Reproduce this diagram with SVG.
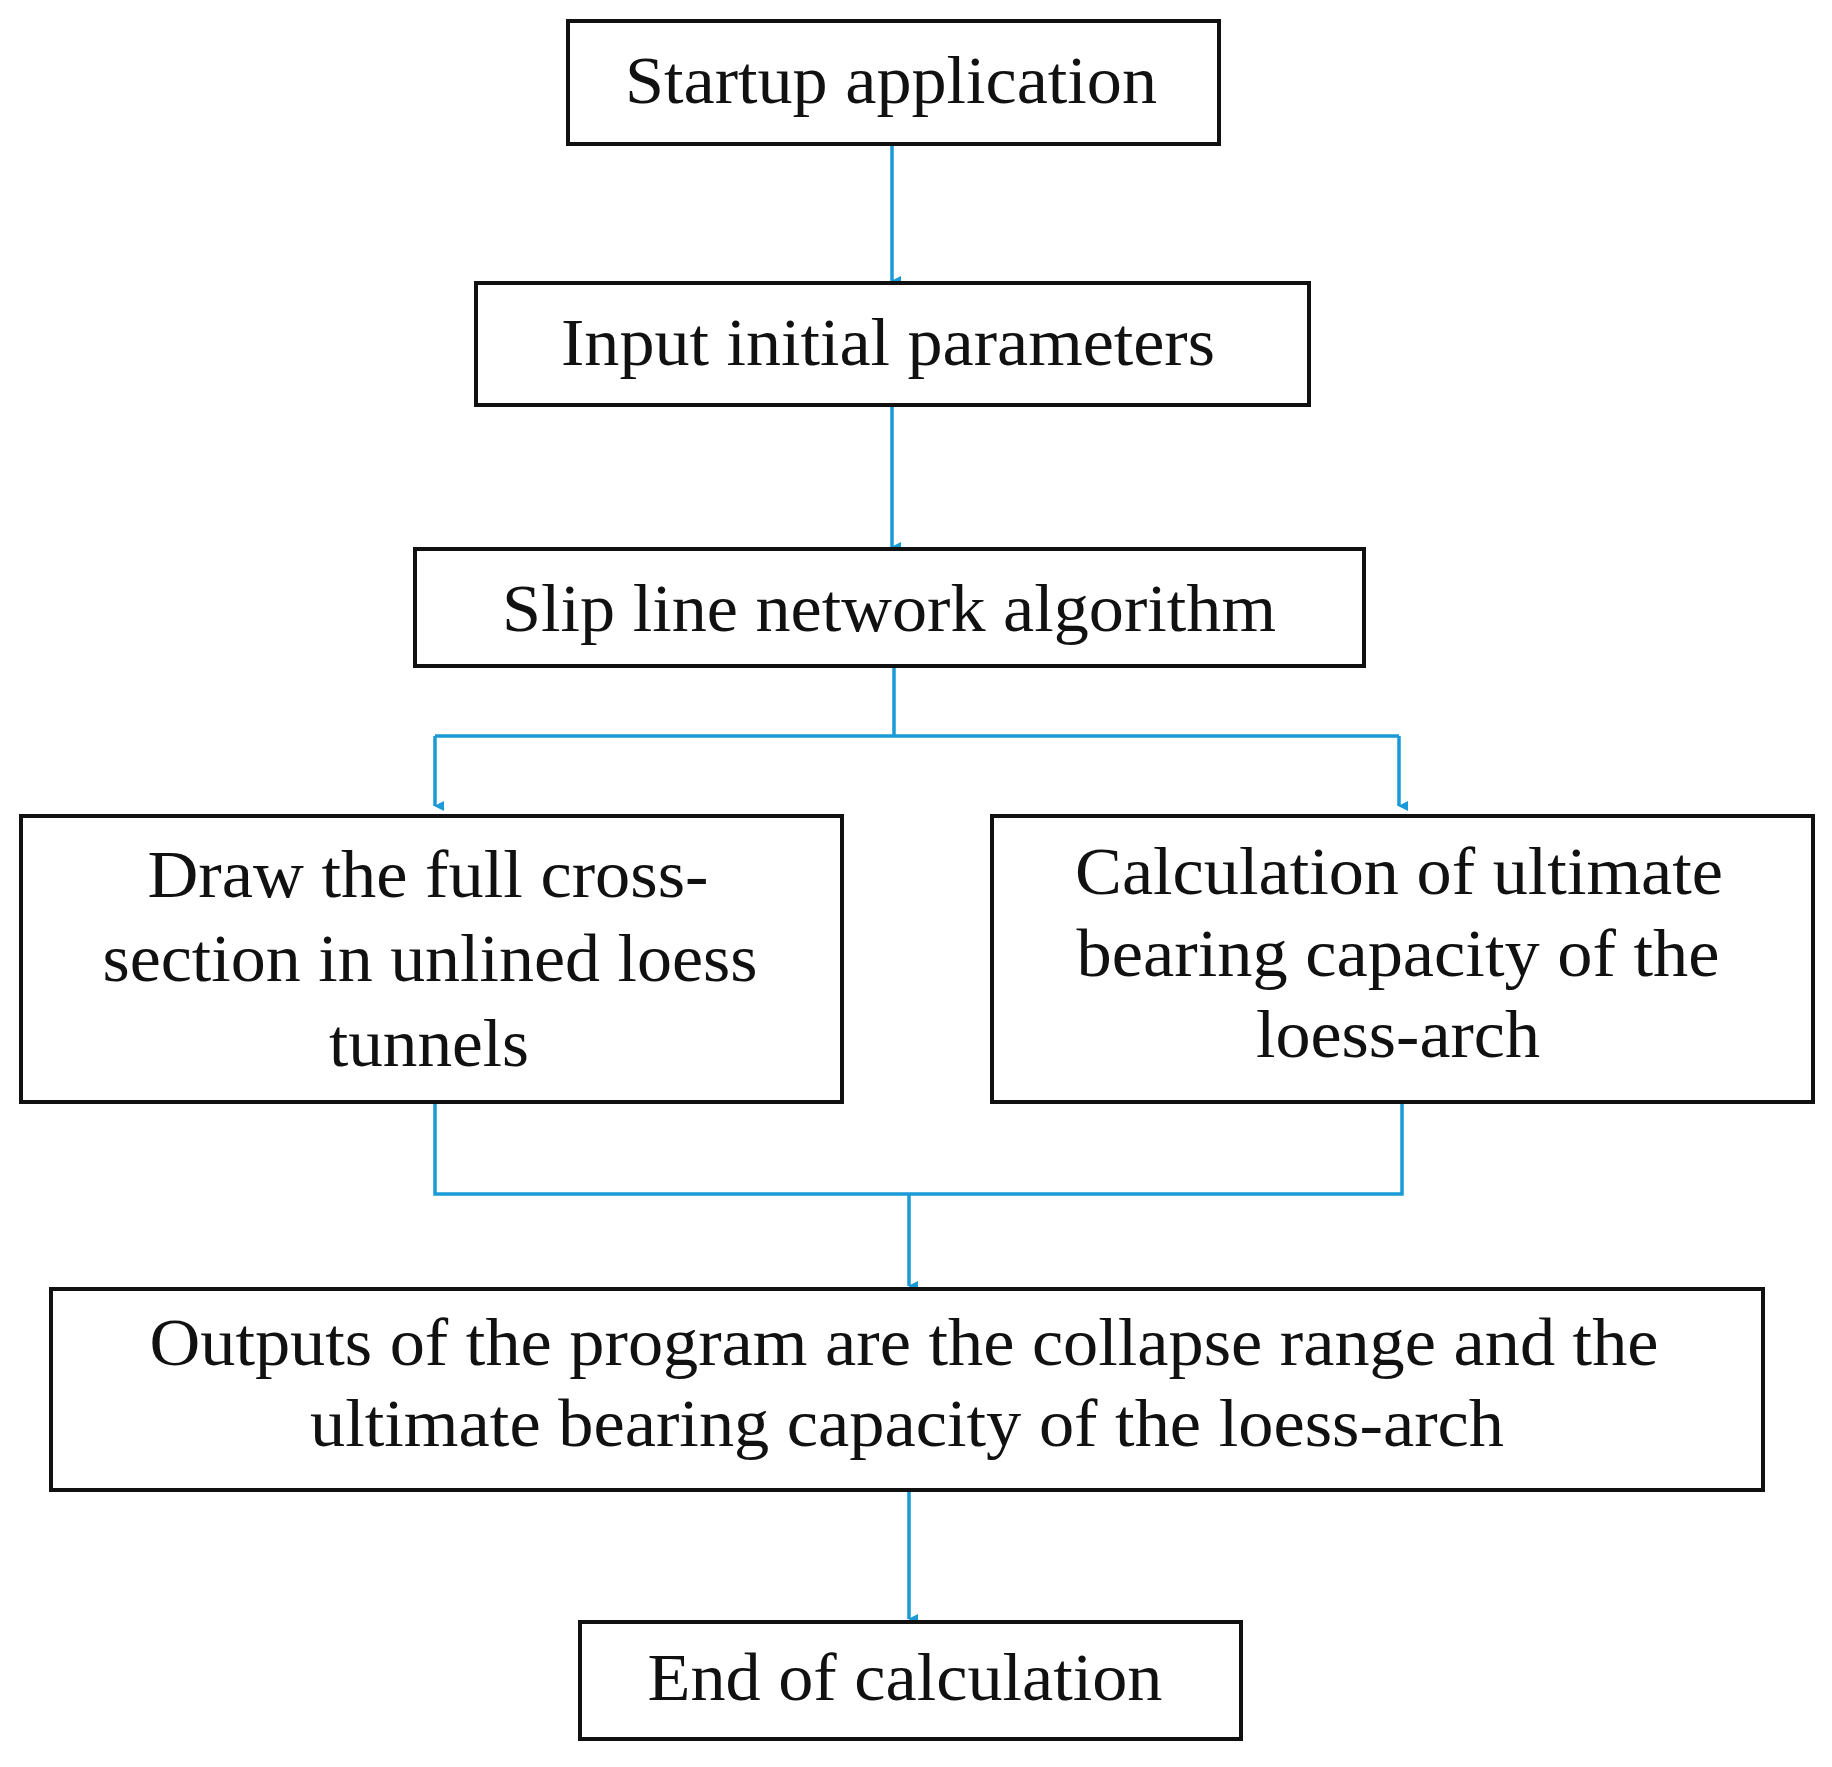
<svg xmlns="http://www.w3.org/2000/svg" width="1832" height="1767" viewBox="0 0 1832 1767">
<defs>
<style>
.box{fill:#fff;stroke:#111;stroke-width:4}
.t{font-family:"Liberation Serif","Times New Roman",serif;font-size:68px;fill:#111;text-anchor:middle;lengthAdjust:spacingAndGlyphs}
.c{fill:none;stroke:#1a9ad6;stroke-width:3.5}
</style>
<marker id="a" markerWidth="10" markerHeight="10" refX="5" refY="9" orient="auto" markerUnits="userSpaceOnUse" viewBox="0 0 10 10">
<path d="M0,0 L10,0 L5,10 Z" fill="#1a9ad6"/>
</marker>
</defs>
<rect width="1832" height="1767" fill="#fff"/>
<g id="connectors">
<path class="c" d="M892,144 V281" marker-end="url(#a)"/>
<path class="c" d="M892,405 V547" marker-end="url(#a)"/>
<path class="c" d="M894,666 V736"/>
<path class="c" d="M435,736 H1399"/>
<path class="c" d="M435,736 V806" marker-end="url(#a)"/>
<path class="c" d="M1399,736 V806" marker-end="url(#a)"/>
<path class="c" d="M435,1102 V1194 H1402 V1102"/>
<path class="c" d="M909,1194 V1286" marker-end="url(#a)"/>
<path class="c" d="M909,1490 V1619" marker-end="url(#a)"/>
</g>
<g id="n1"><rect class="box" x="568" y="21" width="651" height="123"/><text class="t" x="891" y="103" textLength="532" lengthAdjust="spacingAndGlyphs">Startup application</text></g>
<g id="n2"><rect class="box" x="476" y="283" width="833" height="122"/><text class="t" x="888" y="365" textLength="654" lengthAdjust="spacingAndGlyphs">Input initial parameters</text></g>
<g id="n3"><rect class="box" x="415" y="549" width="949" height="117"/><text class="t" x="889" y="631" textLength="774" lengthAdjust="spacingAndGlyphs">Slip line network algorithm</text></g>
<g id="n4"><rect class="box" x="21" y="816" width="821" height="286"/>
<text class="t" x="428" y="897" textLength="561" lengthAdjust="spacingAndGlyphs">Draw the full cross-</text>
<text class="t" x="430" y="981" textLength="655" lengthAdjust="spacingAndGlyphs">section in unlined loess</text>
<text class="t" x="429" y="1066" textLength="200" lengthAdjust="spacingAndGlyphs">tunnels</text></g>
<g id="n5"><rect class="box" x="992" y="816" width="821" height="286"/>
<text class="t" x="1399" y="894" textLength="648" lengthAdjust="spacingAndGlyphs">Calculation of ultimate</text>
<text class="t" x="1398" y="976" textLength="643" lengthAdjust="spacingAndGlyphs">bearing capacity of the</text>
<text class="t" x="1398" y="1057" textLength="284" lengthAdjust="spacingAndGlyphs">loess-arch</text></g>
<g id="n6"><rect class="box" x="51" y="1289" width="1712" height="201"/>
<text class="t" x="904" y="1365" textLength="1509" lengthAdjust="spacingAndGlyphs">Outputs of the program are the collapse range and the</text>
<text class="t" x="907" y="1446" textLength="1194" lengthAdjust="spacingAndGlyphs">ultimate bearing capacity of the loess-arch</text></g>
<g id="n7"><rect class="box" x="580" y="1622" width="661" height="117"/><text class="t" x="905" y="1700" textLength="515" lengthAdjust="spacingAndGlyphs">End of calculation</text></g>
</svg>
